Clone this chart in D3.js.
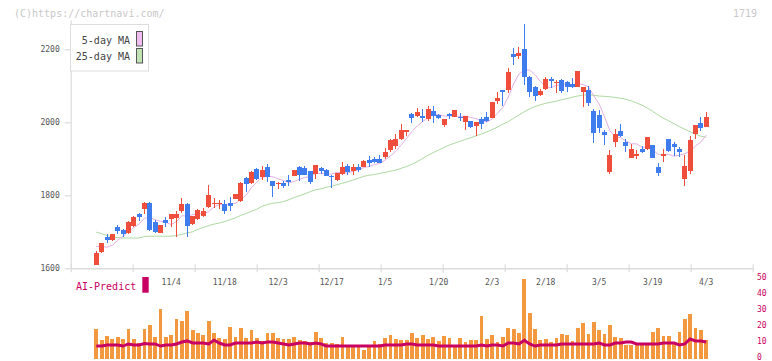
<!DOCTYPE html>
<html><head><meta charset="utf-8">
<script src="https://cdn.jsdelivr.net/npm/d3@7/dist/d3.min.js"></script>
<style>body{margin:0;background:#fff}svg{display:block}</style>
</head><body>
<script>
// ---- data ----
const dateLabels = ["11/4","11/18","12/3","12/17","1/5","1/20","2/3","2/18","3/5","3/19","4/3"];
const labelIndex = [14,24,34,44,54,64,74,84,94,104,114];
const priceTicks = [1600,1800,2000,2200];
const volumeTicks = [0,10,20,30,40,50];

const openP = [1610,1645,1687,1677,1713,1706,1697,1716,1749,1763,
1780,1728,1698,1732,1736,1737,1758,1776,1721,1735,
1743,1769,1776,1776,1775,1780,1790,1784,1848,1834,
1872,1851,1878,1839,1830,1834,1842,1854,1877,1874,
1866,1858,1874,1869,1854,1842,1858,1880,1867,1877,
1878,1897,1899,1899,1906,1924,1935,1953,1974,2022,
2018,2017,2009,2031,2021,1993,2024,2015,2015,2000,
2003,1991,2009,2014,2013,2058,2088,2088,2187,2183,
2201,2125,2098,2075,2091,2119,2108,2116,2111,2105,
2098,2084,2088,2032,2020,1973,1865,1947,1976,1947,
1903,1907,1927,1927,1938,1877,1908,1954,1940,1926,
1846,1867,1968,1999,1988];
const highP = [1648,1670,1694,1695,1719,1709,1730,1743,1752,1783,
1782,1732,1720,1740,1750,1756,1793,1778,1744,1763,
1764,1828,1792,1787,1787,1796,1804,1836,1851,1867,
1874,1880,1886,1840,1837,1840,1856,1870,1880,1880,
1867,1883,1878,1871,1855,1862,1892,1886,1886,1886,
1897,1908,1904,1910,1930,1953,1968,1995,1980,2025,
2038,2036,2045,2045,2024,2009,2026,2035,2025,2017,
2004,2002,2015,2029,2056,2082,2089,2150,2203,2206,
2269,2127,2100,2090,2124,2125,2116,2118,2113,2121,
2141,2098,2100,2036,2034,1979,1924,1981,1995,1953,
1940,1924,1935,1961,1939,1888,1927,1955,1945,1933,
1910,1962,1993,2014,2027];
const lowP = [1608,1643,1670,1675,1694,1687,1694,1714,1730,1749,
1703,1697,1697,1714,1714,1685,1752,1687,1720,1731,
1741,1764,1764,1762,1749,1758,1789,1783,1810,1832,
1843,1842,1837,1796,1817,1819,1825,1852,1840,1855,
1831,1845,1858,1852,1821,1840,1856,1856,1856,1865,
1877,1877,1888,1888,1900,1918,1926,1951,1963,1999,
2014,2000,2004,1999,2008,1986,2009,2014,2004,1979,
1985,1962,1982,2000,2012,2050,2045,2080,2157,2174,
2103,2070,2058,2072,2088,2093,2079,2081,2084,2095,
2096,2041,2045,1942,1970,1938,1858,1933,1960,1920,
1901,1899,1915,1925,1903,1853,1892,1920,1908,1906,
1825,1858,1953,1977,1986];
const closeP = [1641,1668,1678,1694,1703,1695,1728,1741,1740,1780,
1706,1700,1719,1725,1749,1749,1776,1716,1743,1760,
1757,1801,1778,1778,1758,1772,1803,1835,1830,1865,
1845,1869,1849,1826,1834,1826,1837,1869,1856,1856,
1837,1883,1867,1854,1851,1860,1877,1865,1877,1869,
1894,1889,1892,1889,1919,1951,1953,1979,1979,2011,
2029,2011,2036,2018,2011,2009,2016,2034,2011,2016,
1988,2002,1996,2004,2055,2067,2084,2137,2180,2191,
2125,2084,2073,2086,2119,2114,2111,2086,2096,2096,
2141,2098,2054,1970,1985,1966,1910,1968,1963,1936,
1927,1913,1920,1961,1903,1862,1913,1922,1933,1920,
1880,1951,1993,1985,2015];
const ma5 = [1660,1659,1658,1663,1677,1688,1700,1712,1721,1737,
1739,1733,1729,1726,1720,1728,1744,1743,1747,1749,
1750,1755,1768,1775,1774,1777,1778,1789,1800,1821,
1836,1849,1852,1851,1845,1841,1834,1838,1844,1849,
1851,1860,1860,1859,1858,1863,1862,1861,1866,1870,
1876,1879,1884,1887,1897,1908,1921,1938,1956,1975,
1990,2002,2013,2021,2021,2017,2018,2018,2016,2017,
2013,2010,2003,2001,2009,2025,2041,2069,2105,2132,
2143,2143,2131,2112,2097,2095,2101,2103,2105,2101,
2106,2103,2097,2072,2050,2015,1977,1960,1958,1949,
1941,1941,1932,1931,1925,1912,1912,1912,1907,1910,
1914,1921,1935,1946,1965];
const ma25 = [1699,1695,1690,1686,1684,1683,1683,1683,1683,1687,
1688,1688,1688,1688,1688,1690,1693,1697,1700,1707,
1712,1717,1721,1724,1728,1733,1738,1745,1750,1756,
1762,1770,1775,1778,1780,1783,1788,1794,1799,1804,
1810,1815,1818,1822,1825,1829,1833,1837,1842,1847,
1852,1855,1857,1860,1863,1866,1869,1874,1879,1885,
1892,1901,1910,1917,1924,1931,1938,1943,1948,1953,
1958,1963,1968,1974,1980,1987,1995,2002,2011,2020,
2029,2037,2043,2048,2052,2055,2058,2062,2065,2069,
2072,2075,2075,2074,2072,2071,2070,2068,2066,2063,
2059,2053,2047,2039,2030,2020,2011,2004,1996,1988,
1981,1974,1967,1962,1959];
const volume = [18.8,11.9,14.4,12.5,13.8,12.5,18.8,12.5,10,18.8,
21.3,13.8,31.3,13.8,15,25,23.8,30,18.1,16.3,
15,23.8,16.3,13.1,12.5,20,13.8,19.4,13.1,18.1,
13.1,11.3,16.3,16.3,13.1,12.5,12.5,13.8,11.9,11.3,
10.6,16.9,13.1,10,10,9.4,13.8,8.1,8.1,8.1,
5.6,8.1,11.3,9.4,13.1,15,12.5,11.9,11.9,16.3,
13.1,15,12.5,13.8,11.3,14.4,13.1,8.1,13.1,10.6,
11.9,11.9,26.9,12.5,15,10.6,13.8,19.4,18.8,16.3,
50,28.8,18.8,11.9,12.5,10.6,13.1,15.6,15,11.3,
19.4,22.5,15.6,23.1,18.1,15.6,21.3,13.8,13.1,8.8,
8.8,8.8,8.8,9.4,16.9,19.4,14.4,14.4,10.6,16.9,
25,28.1,19.4,18.1,11.9];
const aiPredict = [8.1,8.1,8.8,8.8,8.8,8.1,9.4,8.8,8.8,9.7,
9.4,9.4,8.1,8.8,8.8,9.4,10.6,11.3,10,10,
10,9.4,11.7,10,8.8,8.8,10,10,10,10,
10.6,10,10.6,10.6,10,9.4,8.8,9.4,10,10,
9.4,10,9.4,8.1,8.1,8.1,8.1,8.1,8.1,8.1,
8.1,8.1,8.1,8.1,8.8,8.8,8.8,8.8,9.4,9.4,
8.8,8.8,8.8,8.8,8.1,8.1,8.1,8.1,8.1,8.1,
8.1,8.1,8.8,8.1,8.8,8.8,8.1,10,10,9.4,
11.7,9.4,8.1,8.8,8.8,8.8,8.8,9.4,9.4,9.4,
9.4,9.4,9.4,9.4,10,8.8,8.8,10,10,10.6,
10.6,9.4,9.4,9.4,9.4,9.4,10,10,10,8.8,
9.4,12.5,11.3,11.3,10.6];

// ---- drawing ----
const W = 772, H = 361;
const mono = "'DejaVu Sans Mono', 'Liberation Mono', monospace";
const RED = "#ef4e3d", BLUE = "#3f7cee", ORANGE = "#f3983f", MAG = "#c90063", AXIS = "#dcdcdc", TXT = "#555";
const idx = d3.range(closeP.length);

const svg = d3.select("body").append("svg").attr("width", W).attr("height", H)
  .style("font-family", mono);

const x = d3.scaleLinear().domain([0, closeP.length - 1]).range([96.3, 706.2]);
const y = d3.scaleLinear().domain([1600, 2280]).range([268.3, 20.1]);
const yv = d3.scaleLinear().domain([0, 50]).range([359, 279]);
const xt = d3.scaleLinear().domain([0, 11]).range([70.7, 752.7]);

// watermark
svg.append("text").attr("x", 14).attr("y", 16.5).attr("font-size", 10).attr("fill", "#c8c8c8")
  .text("(C)https://chartnavi.com/");
svg.append("text").attr("x", 757).attr("y", 16.5).attr("font-size", 10).attr("fill", "#c8c8c8")
  .attr("text-anchor", "end").text("1719");

// left price axis
const ya = svg.append("g").attr("transform", "translate(70.7,0)")
  .call(d3.axisLeft(y).tickValues(priceTicks).tickFormat(d3.format("d")).tickSize(6).tickSizeOuter(0).tickPadding(5));
ya.select(".domain").attr("stroke", AXIS).attr("stroke-width", 1.2);
ya.selectAll(".tick line").attr("stroke", AXIS).attr("stroke-width", 1.2);
ya.selectAll(".tick text").attr("fill", TXT).attr("font-size", 8).attr("font-family", mono);

// bottom axis (fixed grid ticks)
const xa = svg.append("g").attr("transform", "translate(0,268.3)")
  .call(d3.axisBottom(xt).ticks(12).tickSize(4).tickSizeOuter(0).tickFormat(""));
xa.select(".domain").attr("stroke", AXIS).attr("stroke-width", 1.5);
xa.selectAll(".tick line").attr("stroke", AXIS).attr("stroke-width", 1.2).attr("y1", -4);

// date labels
svg.append("g").selectAll("text").data(labelIndex).join("text")
  .attr("x", d => x(d)).attr("y", 285).attr("text-anchor", "middle")
  .attr("font-size", 8).attr("fill", TXT).text((d, i) => dateLabels[i]);

// moving averages
const line = arr => d3.line().x(i => x(i)).y(i => y(arr[i]))(idx);
svg.append("path").attr("d", line(ma25)).attr("fill", "none").attr("stroke", "#aed9a0").attr("stroke-width", 1);
svg.append("path").attr("d", line(ma5)).attr("fill", "none").attr("stroke", "#e6afe6").attr("stroke-width", 1);

// candles
const cg = svg.append("g").attr("shape-rendering", "crispEdges");
const col = i => closeP[i] >= openP[i] ? RED : BLUE;
cg.selectAll("line").data(idx).join("line")
  .attr("x1", i => x(i)).attr("x2", i => x(i))
  .attr("y1", i => y(highP[i])).attr("y2", i => y(lowP[i]))
  .attr("stroke", col).attr("stroke-width", 1);
cg.selectAll("rect").data(idx).join("rect")
  .attr("x", i => x(i) - 2.5).attr("width", 5)
  .attr("y", i => y(Math.max(openP[i], closeP[i])))
  .attr("height", i => Math.max(1, Math.abs(y(openP[i]) - y(closeP[i]))))
  .attr("fill", col);

// legend
const lg = svg.append("g");
lg.append("rect").attr("x", 70.5).attr("y", 24.5).attr("width", 78).attr("height", 46.5)
  .attr("fill", "#fff").attr("stroke", AXIS).attr("stroke-width", 1);
lg.append("text").attr("x", 130).attr("y", 44).attr("text-anchor", "end").attr("font-size", 10).attr("fill", "#444").text("5-day MA");
lg.append("text").attr("x", 130).attr("y", 60).attr("text-anchor", "end").attr("font-size", 10).attr("fill", "#444").text("25-day MA");
lg.append("rect").attr("x", 136.5).attr("y", 31.5).attr("width", 6).attr("height", 14.5)
  .attr("fill", "#f0bdf0").attr("stroke", "#555").attr("stroke-width", 1);
lg.append("rect").attr("x", 136.5).attr("y", 48.5).attr("width", 6).attr("height", 14.5)
  .attr("fill", "#bfe3b2").attr("stroke", "#555").attr("stroke-width", 1);

// volume bars
svg.append("g").attr("shape-rendering", "crispEdges").selectAll("rect").data(idx).join("rect")
  .attr("x", i => x(i) - 1.9).attr("width", 3.8)
  .attr("y", i => yv(volume[i])).attr("height", i => yv(0) - yv(volume[i]))
  .attr("fill", ORANGE);

// AI predict line
svg.append("path").attr("d", d3.line().x(i => x(i)).y(i => yv(aiPredict[i]))(idx))
  .attr("fill", "none").attr("stroke", MAG).attr("stroke-width", 3).attr("stroke-linejoin", "miter");

// volume axis labels
const va = svg.append("g").attr("transform", "translate(757,-2.5)")
  .call(d3.axisRight(yv).tickValues(volumeTicks).tickSize(0).tickPadding(0));
va.select(".domain").remove();
va.selectAll(".tick text").attr("fill", MAG).attr("font-size", 8).attr("font-family", mono);

// AI-Predict legend
svg.append("text").attr("x", 76).attr("y", 290).attr("font-size", 10).attr("fill", MAG).text("AI-Predict");
svg.append("rect").attr("x", 142.3).attr("y", 277).attr("width", 6.4).attr("height", 15.7).attr("fill", MAG);
</script>
</body></html>
